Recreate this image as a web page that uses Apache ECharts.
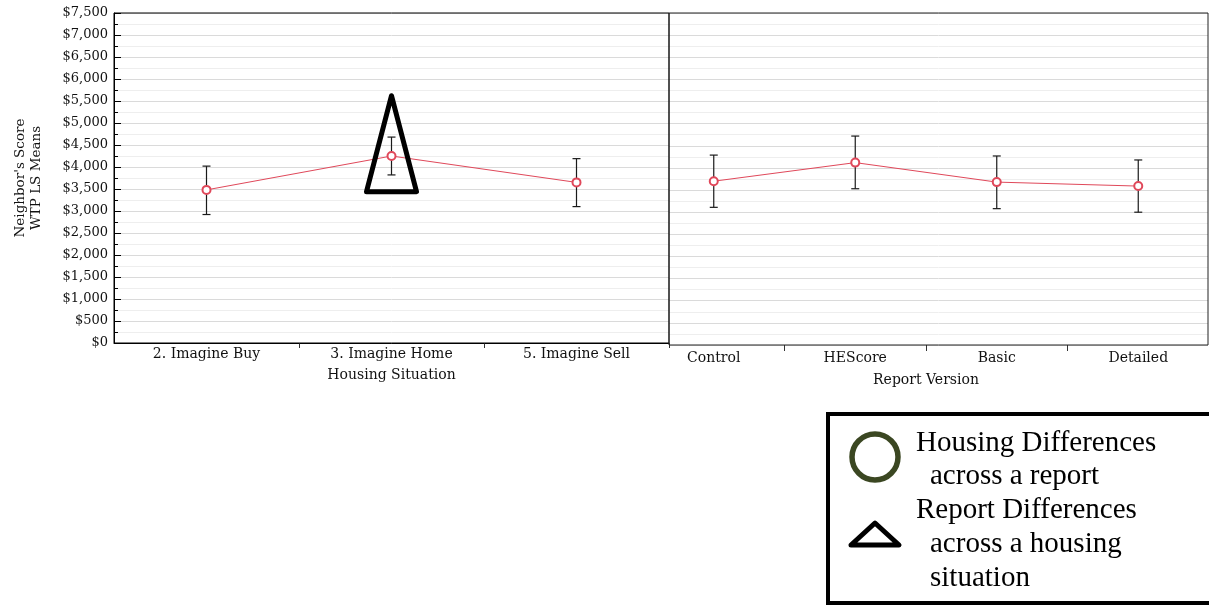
<!DOCTYPE html>
<html>
<head>
<meta charset="utf-8">
<script src="https://cdn.jsdelivr.net/npm/echarts@6/dist/echarts.min.js"></script>
<style>
  html, body { margin: 0; padding: 0; background: #fff; }
  #chart { width: 1209px; height: 607px; }
</style>
</head>
<body>
<div id="chart"></div>
<script>
// ---- data ----
const housingCats = ['2. Imagine Buy', '3. Imagine Home', '5. Imagine Sell'];
const housingMean = [3480, 4250, 3650];
const housingLow  = [2920, 3820, 3100];
const housingHigh = [4020, 4680, 4190];

const reportCats = ['Control', 'HEScore', 'Basic', 'Detailed'];
const reportMean = [3700, 4120, 3680, 3590];
const reportLow  = [3110, 3530, 3080, 3000];
const reportHigh = [4290, 4720, 4270, 4180];

// annotation triangle drawn over "3. Imagine Home": [category index, apex value, base value]
const triangleMark = [[1, 5620, 3440]];

const yMin = 0, yMax = 7500, yStep = 500;
const yAxisTitle = "Neighbor's Score\nWTP LS Means";
const housingTitle = 'Housing Situation';
const reportTitle = 'Report Version';
const legendLines = ['Housing Differences', 'across a report', 'Report Differences', 'across a housing', 'situation'];
const legendIndent = [false, true, false, true, true];

// ---- styles ----
const FONT = 'DejaVu Serif';
const RED = '#e0485a';
const lblStyle = { fontFamily: FONT, fontSize: 13, color: '#111' };
const xLblStyle = { fontFamily: FONT, fontSize: 14, color: '#111' };

function errRender(params, api) {
  const x = api.value(0);
  const lo = api.coord([x, api.value(1)]);
  const hi = api.coord([x, api.value(2)]);
  const w = 4;
  const st = { stroke: '#1a1a1a', lineWidth: 1.2 };
  return {
    type: 'group',
    children: [
      { type: 'line', shape: { x1: lo[0], y1: lo[1], x2: hi[0], y2: hi[1] }, style: st },
      { type: 'line', shape: { x1: lo[0] - w, y1: lo[1], x2: lo[0] + w, y2: lo[1] }, style: st },
      { type: 'line', shape: { x1: hi[0] - w, y1: hi[1], x2: hi[0] + w, y2: hi[1] }, style: st }
    ]
  };
}

function triRender(params, api) {
  const x = api.value(0);
  const apex = api.coord([x, api.value(1)]);
  const base = api.coord([x, api.value(2)]);
  const hw = 25;
  return {
    type: 'polygon',
    shape: { points: [apex, [base[0] + hw, base[1]], [base[0] - hw, base[1]]] },
    style: { fill: 'none', stroke: '#000', lineWidth: 5, lineJoin: 'round' }
  };
}

const chart = echarts.init(document.getElementById('chart'), null, { renderer: 'canvas' });

const option = {
  backgroundColor: '#fff',
  animation: false,
  grid: [
    { left: 114, top: 13, width: 555, height: 330, show: true, z: 3, borderColor: '#000', borderWidth: 1, backgroundColor: 'transparent' },
    { left: 643, top: 13, width: 567, height: 332, show: false },
    { left: 669, top: 13, width: 539, height: 332, show: true, z: 3, borderColor: '#222', borderWidth: 1, backgroundColor: 'transparent' }
  ],
  xAxis: [
    {
      gridIndex: 0, type: 'category', data: housingCats, boundaryGap: true,
      axisLine: { show: true, lineStyle: { color: '#000', width: 1 } },
      axisTick: { show: true, length: 5, lineStyle: { color: '#333' }, interval: (i) => i !== 0 },
      axisLabel: Object.assign({ margin: 4 }, xLblStyle),
      name: housingTitle, nameLocation: 'middle', nameGap: 25,
      nameTextStyle: xLblStyle
    },
    {
      gridIndex: 1, type: 'category', data: reportCats, boundaryGap: true,
      axisLine: { show: false },
      axisTick: { show: true, length: 6, lineStyle: { color: '#333' }, interval: (i) => i !== 0 },
      axisLabel: Object.assign({ margin: 6 }, xLblStyle),
      name: reportTitle, nameLocation: 'middle', nameGap: 28,
      nameTextStyle: xLblStyle
    },
    { gridIndex: 2, type: 'value', show: false, min: 0, max: 1 }
  ],
  yAxis: [
    {
      gridIndex: 0, type: 'value', min: yMin, max: yMax, interval: yStep,
      axisLine: { show: true, lineStyle: { color: '#000', width: 1 } },
      axisTick: { show: true, inside: true, length: 7, lineStyle: { color: '#000' } },
      minorTick: { show: true, splitNumber: 2, length: 4, lineStyle: { color: '#000' } },
      splitLine: { show: true, lineStyle: { color: '#dadada', width: 1 } },
      minorSplitLine: { show: true, lineStyle: { color: '#eeeeee', width: 1 } },
      axisLabel: Object.assign({ margin: 6, padding: [4, 0, 0, 0], formatter: (v) => '$' + v.toLocaleString('en-US') }, lblStyle),
      name: yAxisTitle, nameLocation: 'middle', nameGap: 70, nameRotate: 90,
      nameTextStyle: { fontFamily: FONT, fontSize: 13.5, color: '#111', lineHeight: 16, align: 'center' }
    },
    { gridIndex: 1, type: 'value', min: yMin, max: yMax, interval: yStep, show: false },
    {
      gridIndex: 2, type: 'value', min: yMin, max: yMax, interval: yStep,
      axisLine: { show: false }, axisTick: { show: false }, axisLabel: { show: false },
      minorTick: { show: false, splitNumber: 2 },
      splitLine: { show: true, lineStyle: { color: '#dadada', width: 1 } },
      minorSplitLine: { show: true, lineStyle: { color: '#eeeeee', width: 1 } }
    }
  ],
  series: [
    {
      type: 'custom', xAxisIndex: 0, yAxisIndex: 0, z: 2,
      renderItem: errRender, encode: { x: 0, y: [1, 2] },
      data: housingCats.map((c, i) => [i, housingLow[i], housingHigh[i]])
    },
    {
      type: 'line', xAxisIndex: 0, yAxisIndex: 0, z: 3,
      data: housingMean, symbol: 'emptyCircle', symbolSize: 8,
      lineStyle: { color: RED, width: 1 }, itemStyle: { color: RED, borderWidth: 1 }
    },
    {
      type: 'custom', xAxisIndex: 1, yAxisIndex: 1, z: 2,
      renderItem: errRender, encode: { x: 0, y: [1, 2] },
      data: reportCats.map((c, i) => [i, reportLow[i], reportHigh[i]])
    },
    {
      type: 'line', xAxisIndex: 1, yAxisIndex: 1, z: 3,
      data: reportMean, symbol: 'emptyCircle', symbolSize: 8,
      lineStyle: { color: RED, width: 1 }, itemStyle: { color: RED, borderWidth: 1 }
    },
    {
      type: 'custom', xAxisIndex: 0, yAxisIndex: 0, z: 5,
      renderItem: triRender, encode: { x: 0, y: [1, 2] },
      data: triangleMark
    }
  ],
  graphic: [
    { type: 'rect', shape: { x: 828, y: 414, width: 400, height: 189 }, style: { fill: '#fff', stroke: '#000', lineWidth: 4 }, z: 10 },
    { type: 'circle', shape: { cx: 875, cy: 457, r: 23 }, style: { fill: 'none', stroke: '#3b4722', lineWidth: 5.5 }, z: 11 },
    { type: 'polygon', shape: { points: [[875, 523], [899, 545], [851, 545]] }, style: { fill: 'none', stroke: '#000', lineWidth: 5, lineJoin: 'round' }, z: 11 },
    ...legendLines.map((t, i) => ({
      type: 'text', z: 11,
      style: { text: t, x: legendIndent[i] ? 930 : 916, y: 443 + i * 33.8, fill: '#000', font: '29px "Liberation Serif"', textVerticalAlign: 'middle' }
    }))
  ]
};
chart.setOption(option);
</script>
</body>
</html>
